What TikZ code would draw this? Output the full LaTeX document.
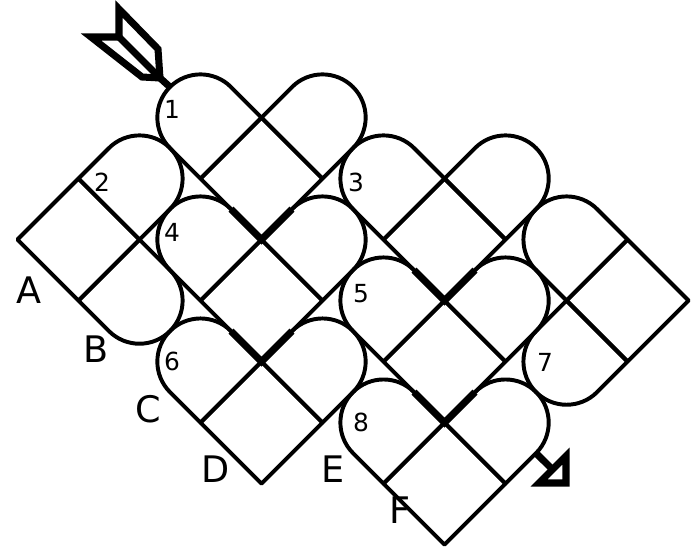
\documentclass[tikz,border=0pt]{standalone}
\usepackage{fontspec}
\setmainfont{DejaVu Sans}
\usetikzlibrary{calc}

% one rounded strip end, centred at (#1,#2), bulging towards angle #3
\newcommand{\heartlobe}[3]{%
    \begin{scope}[shift={(#1,#2)}, rotate=#3]
        \draw[strip] (-0.5,-0.5) -- (0,-0.5) arc[start angle=-90, end angle=90, radius=0.5] -- (-0.5,0.5) -- cycle;
    \end{scope}}

\begin{document}
\begin{tikzpicture}[
    x=0.025cm, y=-0.025cm,
    strip/.style={line width=2.8pt, line join=round},
    overlap/.style={line width=5pt},
    feather/.style={line width=5pt, line join=miter},
    num/.style={font=\fontsize{17.7}{18}\selectfont, inner sep=0pt},
    letter/.style={font=\fontsize{26}{26}\selectfont, inner sep=0pt},
    lattice/.style={shift={(261.5,-4.5)}, x=1cm, y=1cm, rotate=-45, xscale=2.1567, yscale=-2.1567},
]
\useasboundingbox (0,0) rectangle (700,548);

\begin{scope}[lattice]
% --- Heart 1 ---
\draw[strip] (1,1) rectangle (2,2);
\heartlobe{0.5}{1.5}{180}
\heartlobe{1.5}{0.5}{270}

% --- Heart 4 ---
\draw[strip] (2,2) rectangle (3,3);
\heartlobe{1.5}{2.5}{180}
\heartlobe{2.5}{1.5}{270}

% --- Heart 6 ---
\draw[strip] (3,3) rectangle (4,4);
\heartlobe{2.5}{3.5}{180}
\heartlobe{3.5}{2.5}{270}

% --- Heart 3 ---
\draw[strip] (3,0) rectangle (4,1);
\heartlobe{2.5}{0.5}{180}
\heartlobe{3.5}{-0.5}{270}

% --- Heart 5 ---
\draw[strip] (4,1) rectangle (5,2);
\heartlobe{3.5}{1.5}{180}
\heartlobe{4.5}{0.5}{270}

% --- Heart 8 ---
\draw[strip] (5,2) rectangle (6,3);
\heartlobe{4.5}{2.5}{180}
\heartlobe{5.5}{1.5}{270}

% --- Heart 2 (points left) ---
\draw[strip] (0,3) rectangle (1,4);
\heartlobe{0.5}{2.5}{270}
\heartlobe{1.5}{3.5}{0}

% --- Heart 7 (points right) ---
\draw[strip] (5,-1) rectangle (6,0);
\heartlobe{4.5}{-0.5}{180}
\heartlobe{5.5}{0.5}{90}

% --- Edges drawn twice ---
\draw[overlap] (1.5,2) -- (2,2) -- (2,1.5);
\draw[overlap] (2.5,3) -- (3,3) -- (3,2.5);
\draw[overlap] (3.5,1) -- (4,1) -- (4,0.5);
\draw[overlap] (4.5,2) -- (5,2) -- (5,1.5);

\coordinate (entry) at (0,1.5);
\coordinate (exit) at (6,1.5);
\end{scope}

% --- Entry arrow (tail feathers) ---
\coordinate (tailtip) at (160,78);
\coordinate (notch) at (119,37);
\draw[feather] (tailtip) -- (158,49) -- (119,9) -- (notch) -- (91,37) -- (142,77) -- cycle;
\draw[feather] (notch) -- (tailtip) -- (entry);

% --- Exit arrow ---
\coordinate (headbase) at (552,469);
\draw[feather] (exit) -- (headbase);
\draw[feather] (539,483) -- (566,483) -- (566,456) -- cycle;

% --- Numbers ---
\node[num] (n1) at (172,109) {1};
\node[num] (n2) at (102,182) {2};
\node[num] (n3) at (356,182) {3};
\node[num] (n4) at (172,232) {4};
\node[num] (n5) at (361,294) {5};
\node[num] (n6) at (172,361) {6};
\node[num] (n7) at (545,362) {7};
\node[num] (n8) at (361,422) {8};

% --- Letters ---
\node[letter] (la) at (29,290) {A};
\node[letter] (lb) at (96,349) {B};
\node[letter] (lc) at (148,409) {C};
\node[letter] (ld) at (216,469) {D};
\node[letter] (le) at (333,469) {E};
\node[letter] (lf) at (400,510) {F};

\end{tikzpicture}
\end{document}
